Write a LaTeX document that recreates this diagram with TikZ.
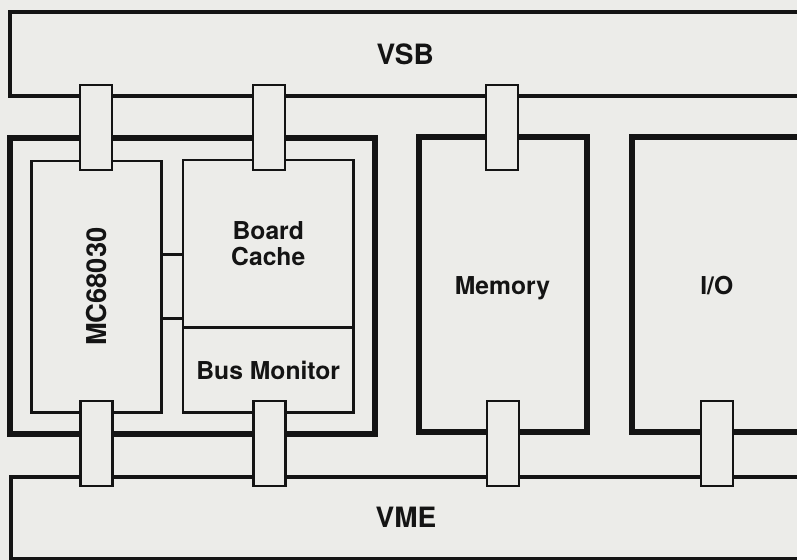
\documentclass[tikz,border=0pt]{standalone}
\usepackage{fontspec}
\setmainfont{TeX Gyre Heros}
\usetikzlibrary{fit}
\definecolor{paper}{RGB}{236,236,233}
\definecolor{ink}{RGB}{20,20,20}

\begin{document}
\begin{tikzpicture}[x=0.75pt, y=-0.75pt, ink,
	bus/.style={draw, line width=3pt, inner sep=0pt},
	board/.style={draw, line width=4.5pt, inner sep=0pt},
	chip/.style={draw, line width=2.2pt, inner sep=0pt},
	plug/.style={draw, line width=2.2pt, fill=paper, inner sep=0pt, minimum width=24pt, minimum height=63.75pt},
	buslabel/.style={font=\bfseries\fontsize{21}{24}\selectfont},
	partlabel/.style={align=center, font=\bfseries\fontsize{18.5}{19.5}\selectfont}]
	\fill[paper] (0,0) rectangle (797,560);
	\clip (0,0) rectangle (797,560);
	% backplane buses
	\node[bus, fit={(9.5,12.5) (801,96)}] (vsb) {};
	\node[bus, fit={(11,476.5) (801,558.5)}] (vme) {};
	\node[buslabel] (vsblabel) at (vsb.center) {VSB};
	\node[buslabel] (vmelabel) at (vme.center) {VME};
	% boards
	\node[board, fit={(9.5,138.5) (375,433.5)}] (cpuboard) {};
	\node[board, fit={(418.5,137) (586.5,432)}] (memory) {};
	\node[board, fit={(631.5,137) (802,432)}] (io) {};
	\node[partlabel] (memorylabel) at ([yshift=-3pt]memory.center) {Memory};
	\node[partlabel] (iolabel) at ([yshift=-1pt]io.center) {I/O};
	% parts of the processor board
	\node[chip, fit={(31.5,161) (161.5,412.5)}] (cpu) {};
	\node[chip, fit={(183,160) (353.5,327.5)}] (cache) {};
	\node[chip, fit={(183,327.5) (353.5,412.5)}] (monitor) {};
	\node[rotate=90, font=\bfseries\fontsize{20.5}{22}\selectfont] (cpulabel) at (cpu.center) {MC68030};
	\node[partlabel] (cachelabel) at (cache.center) {Board\\Cache};
	\node[partlabel] (monitorlabel) at (monitor.center) {Bus Monitor};
	\draw[line width=2.2pt] ([yshift=24pt]cpu.east) -- ([yshift=24pt]cpu.east -| cache.west);
	\draw[line width=2.2pt] ([yshift=-24pt]cpu.east) -- ([yshift=-24pt]cpu.east -| cache.west);
	% bus connectors
	\foreach \x/\n in {96/1, 269/2, 502/3}
		\node[plug] (vsbplug\n) at (\x,127.5) {};
	\foreach \x/\n in {96.5/1, 269.5/2, 503/3, 717/4}
		\node[plug] (vmeplug\n) at (\x,443.5) {};
\end{tikzpicture}
\end{document}
